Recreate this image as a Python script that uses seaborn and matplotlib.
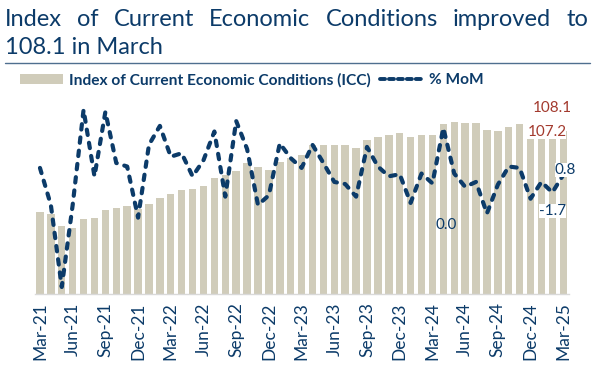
import numpy as np
import pandas as pd
import seaborn as sns
import matplotlib.pyplot as plt
from matplotlib.patches import Patch
from matplotlib.lines import Line2D

# Data
months = ["Mar-21", "Apr-21", "May-21", "Jun-21", "Jul-21", "Aug-21", "Sep-21", "Oct-21", "Nov-21", "Dec-21",
          "Jan-22", "Feb-22", "Mar-22", "Apr-22", "May-22", "Jun-22", "Jul-22", "Aug-22", "Sep-22", "Oct-22",
          "Nov-22", "Dec-22", "Jan-23", "Feb-23", "Mar-23", "Apr-23", "May-23", "Jun-23", "Jul-23", "Aug-23",
          "Sep-23", "Oct-23", "Nov-23", "Dec-23", "Jan-24", "Feb-24", "Mar-24", "Apr-24", "May-24", "Jun-24",
          "Jul-24", "Aug-24", "Sep-24", "Oct-24", "Nov-24", "Dec-24", "Jan-25", "Feb-25", "Mar-25"]
icc = [54.1, 52.7, 45.2, 43.5, 49.4, 50.1, 55.8, 56.9, 58.4, 56.1,
       59.6, 63.5, 66.2, 68.8, 69.5, 71.7, 77.0, 78.8, 81.6, 86.7,
       84.0, 82.3, 87.2, 89.8, 92.0, 98.6, 98.6, 98.6, 98.6, 96.6,
       101.9, 103.9, 105.0, 106.6, 103.9, 105.0, 104.9, 112.7, 114.0, 113.0,
       113.4, 108.3, 107.7, 110.3, 112.5, 109.6, 109.4, 107.2, 108.1]
mom = [1.8, -3.5, -15.2, -3.5, 10.1, 0.6, 9.8, 2.5, 2.0, -5.3,
       5.1, 7.8, 3.4, 3.9, 0.6, 2.9, 7.0, -2.3, 8.5, 4.5,
       -3.5, -2.1, 5.3, 3.2, 1.8, 5.1, 2.5, -0.2, -0.5, -2.3,
       4.8, 2.0, 0.6, 0.9, -3.2, 1.0, -0.4, 7.5, 1.0, -0.9,
       -0.2, -4.7, -0.6, 2.0, 1.8, -2.6, -0.2, -1.7, 0.8]

title_line1 = "Index of Current Economic Conditions improved to"
title_line2 = "108.1 in March"

navy = "#0C3B69"
bar_color = "#D0CCBA"
red = "#A33A2E"

df = pd.DataFrame({"month": months, "icc": icc, "mom": mom, "pos": np.arange(len(months))})

sns.set_theme(style="white")
plt.rcParams["font.family"] = ["Lato", "DejaVu Sans"]

fig = plt.figure(figsize=(5.93, 3.77), dpi=100)
ax = fig.add_axes([0.0582, 0.2202, 0.9008, 0.5146])

sns.barplot(data=df, x="pos", y="icc", color=bar_color, width=0.68, saturation=1,
            edgecolor="none", ax=ax)
ax.set_ylim(0, 128.4)

ax2 = ax.twinx()
sns.lineplot(data=df, x="pos", y="mom", ax=ax2, color=navy, lw=3.0)
ln = ax2.get_lines()[0]
ln.set_dashes((1.3, 1.9))
ln.set_dash_capstyle("round")
ax2.set_ylim(-16.2, 11.5)

for a in (ax, ax2):
    a.set_xlabel("")
    a.set_ylabel("")
    a.set_yticks([])
    for s in a.spines.values():
        s.set_visible(False)
ax2.spines["bottom"].set_visible(True)
ax2.spines["bottom"].set_color("#D9D9D9")
ax2.spines["bottom"].set_linewidth(1.0)

ticks = list(range(0, len(months), 3))
ax.set_xticks(ticks)
ax.set_xticklabels([months[i] for i in ticks], rotation=90, fontsize=12.5, color=navy)
ax.tick_params(axis="x", length=0, pad=6, labelbottom=True)
ax2.tick_params(axis="x", length=0, labelbottom=False)
ax.set_xlim(-0.5, len(months) - 0.5)

# data labels
box = dict(facecolor="white", edgecolor="none", pad=0.0)
ax.text(47.0, 123.1, "108.1", color=red, fontsize=11, ha="center", va="center", bbox=box)
ax.text(46.5, 107.2, "107.2", color=red, fontsize=11, ha="center", va="center", bbox=box)
ax2.text(48.2, 1.5, "0.8", color=navy, fontsize=11, ha="center", va="center", bbox=box)
ax2.text(47.0, -4.3, "-1.7", color=navy, fontsize=11, ha="center", va="center", bbox=box)
ax2.text(37.3, -6.3, "0.0", color=navy, fontsize=11, ha="center", va="center")

# legend
handles = [Patch(facecolor=bar_color, edgecolor="none"),
           Line2D([0], [0], color=navy, lw=2.8, dashes=(1.3, 1.0), dash_capstyle="round")]
fig.legend(handles, ["Index of Current Economic Conditions (ICC)", "% MoM"],
           loc="center left", bbox_to_anchor=(0.01, 0.788), ncol=2, frameon=False,
           prop={"size": 11.2, "weight": "bold"}, labelcolor=navy,
           handlelength=2.8, handleheight=0.6, handletextpad=0.35, columnspacing=0.6)

# title, first line justified across the width
W, H = fig.bbox.width, fig.bbox.height
words = title_line1.split()
tkw = dict(fontsize=17, color=navy, va="baseline")
texts = [fig.text(0, 1 - 26 / H, w, **tkw) for w in words]
fig.canvas.draw()
r = fig.canvas.get_renderer()
widths = [t.get_window_extent(r).width for t in texts]
x0, x1 = 5, 588
gap = (x1 - x0 - sum(widths)) / (len(words) - 1)
xpos = x0
for t, w in zip(texts, widths):
    t.set_x(xpos / W)
    xpos += w + gap
fig.text(x0 / W, 1 - 54 / H, title_line2, **tkw)

fig.add_artist(Line2D([5 / W, 590 / W], [1 - 63 / H, 1 - 63 / H], color="#4F6F8F", lw=1.0))

fig.savefig("out.png", dpi=100)
